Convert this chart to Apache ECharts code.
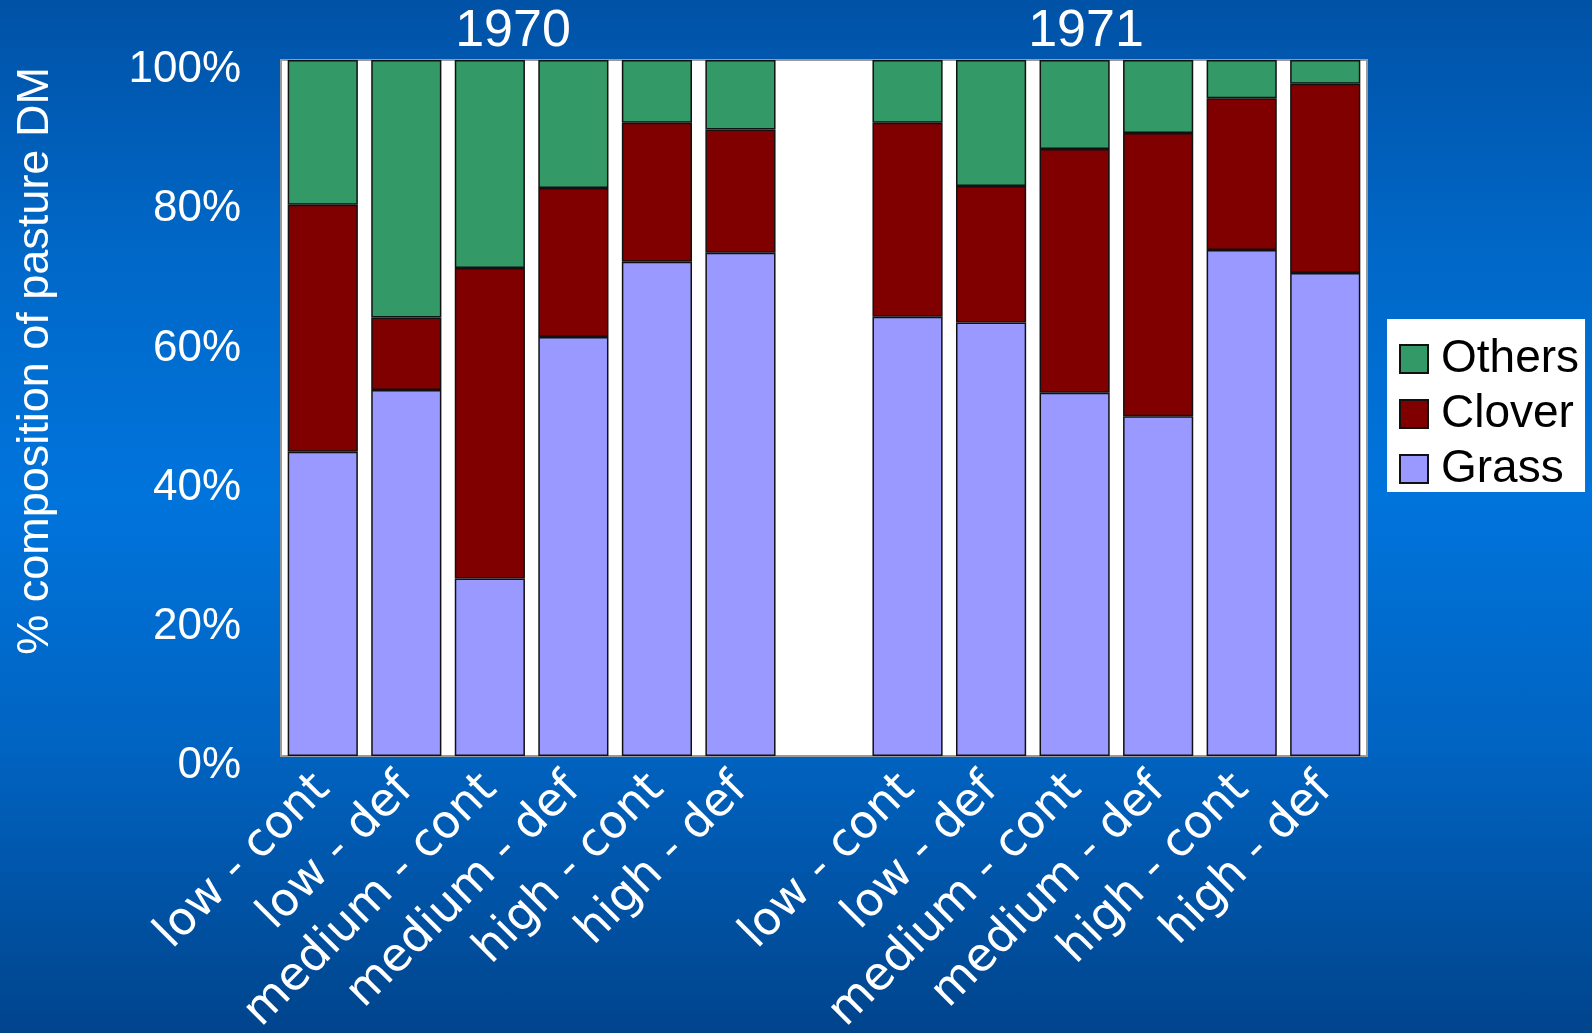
<!DOCTYPE html>
<html>
<head>
<meta charset="utf-8">
<script src="https://cdn.jsdelivr.net/npm/echarts@6/dist/echarts.min.js"></script>
<style>
  html, body { margin: 0; padding: 0; }
  #main {
    width: 1592px; height: 1033px;
    background: linear-gradient(to bottom, #0052a6 0%, #0068c8 25%, #0074dc 48%, #0064c2 72%, #00448c 100%);
  }
</style>
</head>
<body>
<div id="main"></div>
<script>
// 100% stacked composition, 1970 block, empty spacer, 1971 block
var categories = [
  'low - cont', 'low - def', 'medium - cont', 'medium - def', 'high - cont', 'high - def',
  '',
  'low - cont', 'low - def', 'medium - cont', 'medium - def', 'high - cont', 'high - def'
];
var grass  = [43.7, 52.6, 25.5, 60.2, 71.0, 72.3, null, 63.1, 62.3, 52.2, 48.8, 72.7, 69.4];
var clover = [35.5, 10.4, 44.6, 21.4, 20.0, 17.7, null, 27.9, 19.6, 35.0, 40.7, 21.8, 27.2];
var others = [20.8, 37.0, 29.9, 18.4,  9.0, 10.0, null,  9.0, 18.1, 12.8, 10.5,  5.5,  3.4];
var yTicks = [0, 20, 40, 60, 80, 100];
var years = ['1970', '1971'];

var myChart = echarts.init(document.getElementById('main'));

function barSeries(name, data, color) {
  return {
    name: name,
    type: 'bar',
    stack: 'total',
    data: data,
    barCategoryGap: '16%',
    itemStyle: { color: color, borderColor: '#111', borderWidth: 1.5 }
  };
}

var option = {
  animation: false,
  textStyle: { fontFamily: 'Liberation Sans, Arial, sans-serif' },
  grid: {
    left: 281, right: 225, top: 60, bottom: 277,
    outerBoundsMode: 'none',
    show: true, backgroundColor: '#fff', borderColor: '#9a9a9a', borderWidth: 2
  },
  legend: {
    orient: 'vertical',
    left: 1387, top: 319,
    data: ['Others', 'Clover', 'Grass'],
    icon: 'rect',
    backgroundColor: '#fff',
    padding: [17, 6, 0, 12],
    itemWidth: 28, itemHeight: 28, itemGap: 9,
    textStyle: {
      color: '#000', fontSize: 46, lineHeight: 42, padding: [0, 0, 0, 8],
      fontFamily: 'Liberation Sans, Arial, sans-serif'
    }
  },
  xAxis: {
    type: 'category',
    data: categories,
    axisLine: { show: false },
    axisTick: { show: false },
    axisLabel: {
      interval: 0, rotate: 45, margin: 26,
      color: '#fff', fontSize: 46, fontFamily: 'DejaVu Sans, sans-serif'
    }
  },
  yAxis: {
    type: 'value',
    min: yTicks[0], max: yTicks[yTicks.length - 1], interval: 20,
    splitLine: { show: false },
    axisLine: { show: false },
    axisLabel: {
      color: '#fff', fontSize: 44, margin: 40,
      verticalAlign: 'top', lineHeight: 20, formatter: '{value}%'
    }
  },
  graphic: [
    { type: 'text', x: 513, y: 32,
      style: { text: years[0], fill: '#fff', font: '52px Liberation Sans, Arial', textAlign: 'center', textVerticalAlign: 'middle' } },
    { type: 'text', x: 1086, y: 32,
      style: { text: years[1], fill: '#fff', font: '52px Liberation Sans, Arial', textAlign: 'center', textVerticalAlign: 'middle' } },
    { type: 'text', x: 36, y: 361, rotation: Math.PI / 2,
      style: { text: '% composition of pasture DM', fill: '#fff', font: '45px Liberation Sans, Arial', textAlign: 'center', textVerticalAlign: 'middle' } }
  ],
  series: [
    barSeries('Grass', grass, '#9999ff'),
    barSeries('Clover', clover, '#800000'),
    barSeries('Others', others, '#339966')
  ]
};

myChart.setOption(option);
</script>
</body>
</html>
